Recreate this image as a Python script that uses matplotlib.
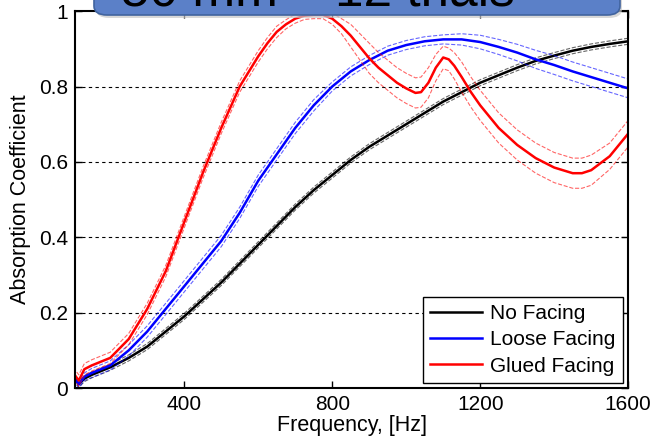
import matplotlib
matplotlib.use("Agg")
import matplotlib.pyplot as plt
from matplotlib.patches import FancyBboxPatch

plt.rcParams['font.family'] = ['Liberation Sans', 'DejaVu Sans']

# frequency grid, Hz
freq = [100, 115, 130, 150, 200, 250, 300, 350, 400, 450, 500, 550, 600, 650, 700, 750,
        800, 850, 900, 950, 1000, 1050, 1100, 1150, 1200, 1250, 1300, 1350, 1400,
        1450, 1500, 1550, 1600]

no_facing = [0.03, 0.01, 0.025, 0.035, 0.055, 0.08, 0.11, 0.15, 0.19, 0.235, 0.28, 0.33,
             0.38, 0.43, 0.48, 0.525, 0.565, 0.605, 0.64, 0.67, 0.70, 0.73, 0.76, 0.785,
             0.81, 0.83, 0.85, 0.868, 0.882, 0.895, 0.905, 0.913, 0.92]
loose_facing = [0.03, 0.01, 0.03, 0.04, 0.06, 0.10, 0.15, 0.21, 0.27, 0.33, 0.39, 0.465,
                0.55, 0.62, 0.69, 0.75, 0.80, 0.84, 0.87, 0.895, 0.91, 0.92, 0.925, 0.925,
                0.918, 0.905, 0.89, 0.872, 0.857, 0.84, 0.825, 0.81, 0.795]

# glued facing has its own, finer grid (sharp peak, dip and bump)
freq_glued = [100, 115, 130, 150, 200, 250, 300, 350, 400, 450, 500, 550, 600, 625, 650,
              675, 700, 725, 750, 775, 800, 825, 850, 875, 900, 925, 950, 975, 1000, 1025,
              1040, 1060, 1080, 1100, 1115, 1130, 1150, 1175, 1200, 1250, 1300, 1350,
              1400, 1450, 1475, 1500, 1550, 1600]
glued_facing = [0.04, 0.02, 0.05, 0.06, 0.08, 0.13, 0.21, 0.31, 0.44, 0.57, 0.69, 0.80,
                0.88, 0.915, 0.945, 0.965, 0.98, 0.988, 0.99, 0.99, 0.98, 0.96, 0.935,
                0.905, 0.875, 0.85, 0.83, 0.81, 0.795, 0.783, 0.785, 0.81, 0.85, 0.877,
                0.872, 0.855, 0.825, 0.785, 0.75, 0.69, 0.645, 0.61, 0.585, 0.57, 0.57,
                0.578, 0.615, 0.675]

# spread of the trials (+/- around the mean)
spread_none = [0.008] * len(freq)
spread_loose = [0.01, 0.01, 0.01, 0.012, 0.012, 0.015, 0.015, 0.015, 0.015, 0.015, 0.015,
                0.015, 0.015, 0.015, 0.015, 0.015, 0.012, 0.012, 0.012, 0.012, 0.012,
                0.012, 0.012, 0.015, 0.018, 0.02, 0.022, 0.024, 0.025, 0.025, 0.025,
                0.025, 0.025]
spread_glued = [0.015, 0.015, 0.015, 0.015, 0.015, 0.015, 0.015, 0.015, 0.015, 0.015,
                0.015, 0.015, 0.015, 0.015, 0.015, 0.012, 0.012, 0.01, 0.01, 0.01, 0.015,
                0.02, 0.03, 0.035, 0.04, 0.04, 0.04, 0.04, 0.04, 0.04, 0.04, 0.04, 0.035,
                0.03, 0.03, 0.035, 0.04, 0.04, 0.04, 0.04, 0.04, 0.04, 0.04, 0.04, 0.04,
                0.04, 0.035, 0.035]

fig = plt.figure(figsize=(6.53, 4.45), dpi=100)
ax = fig.add_axes([0.115, 0.128, 0.847, 0.847])

series = [(freq, no_facing, spread_none, 'black', 'No Facing'),
          (freq, loose_facing, spread_loose, 'blue', 'Loose Facing'),
          (freq_glued, glued_facing, spread_glued, 'red', 'Glued Facing')]

for f, mean, spread, col, name in series:
    upper = [m + s for m, s in zip(mean, spread)]
    lower = [m - s for m, s in zip(mean, spread)]
    ax.plot(f, upper, '--', color=col, lw=0.8, alpha=0.6)
    ax.plot(f, lower, '--', color=col, lw=0.8, alpha=0.6)
    ax.plot(f, mean, '-', color=col, lw=1.8, label=name)

ax.set_xlim(105, 1600)
ax.set_ylim(0, 1)
ax.set_xticks([400, 800, 1200, 1600])
ax.set_yticks([0, 0.2, 0.4, 0.6, 0.8, 1])
ax.set_yticklabels(['0', '0.2', '0.4', '0.6', '0.8', '1'])
for yv in [0.2, 0.4, 0.6, 0.8]:
    ax.axhline(yv, color='black', ls=(0, (3, 3)), lw=0.8, zorder=0)

ax.tick_params(direction='in', top=True, right=True, labelsize=15, length=5, width=1, pad=5)
for sp in ax.spines.values():
    sp.set_linewidth(1.5)
ax.set_xlabel('Frequency, [Hz]', fontsize=15.5, labelpad=1)
ax.set_ylabel('Absorption Coefficient', fontsize=15.5, labelpad=6)

leg = ax.legend(loc='lower right', fontsize=15, fancybox=False, framealpha=1,
                edgecolor='black', handlelength=2.5, handletextpad=0.4,
                borderaxespad=0.25, labelspacing=0.35, borderpad=0.35)
leg.get_frame().set_linewidth(1.0)

# title banner, cut off at top of the slide
shadow = FancyBboxPatch((96 / 653, 1 - 18 / 445), 526 / 653, 40 / 445,
                        boxstyle='round,pad=0,rounding_size=0.02',
                        transform=fig.transFigure, facecolor='#c8c8c8', edgecolor='none',
                        alpha=0.7, zorder=9)
banner = FancyBboxPatch((94 / 653, 1 - 15 / 445), 526 / 653, 40 / 445,
                        boxstyle='round,pad=0,rounding_size=0.02',
                        transform=fig.transFigure, facecolor='#5b80c8', edgecolor='#41649f',
                        lw=1.2, zorder=10)
fig.patches.extend([shadow, banner])
fig.text(121 / 653, 1 - 5 / 445, '50 mm \u2013 12 trials', fontsize=37, va='baseline',
         ha='left', color='black', zorder=11)

fig.savefig('out.png', dpi=100)
